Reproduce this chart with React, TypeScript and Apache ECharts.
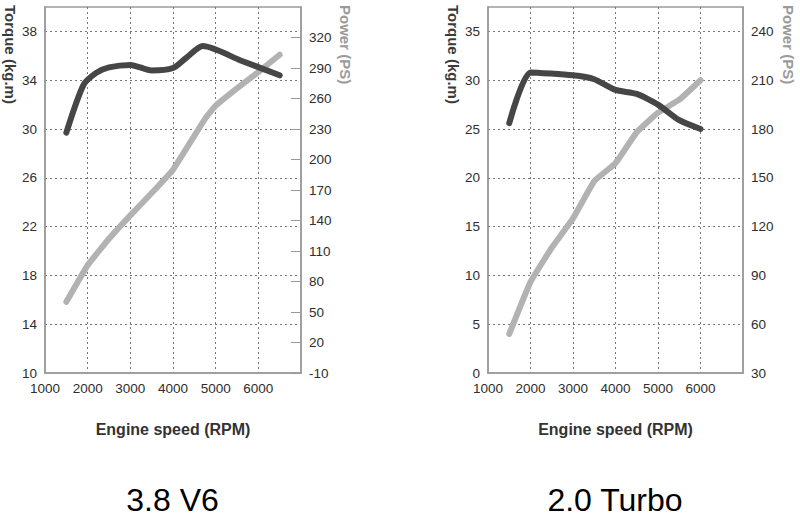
import React, { useEffect, useRef } from "react";
import * as echarts from "echarts";

// 3.8 V6
const v6TorqueRpm = [1500, 1900, 2200, 2500, 3000, 3500, 4000, 4300, 4700, 5600, 6500];
const v6Torque = [29.7, 33.6, 34.6, 35.05, 35.25, 34.8, 35.0, 35.8, 36.8, 35.6, 34.4];
const v6PowerRpm = [1500, 2000, 2500, 3000, 3500, 4000, 4750, 5000, 5500, 6000, 6500];
const v6Power = [60, 96, 122, 145, 167, 190, 240, 253, 270, 286, 303];

// 2.0 Turbo
const tTorqueRpm = [1500, 2000, 3000, 3500, 4000, 4500, 5000, 5500, 6000];
const tTorque = [25.6, 30.8, 30.5, 30.1, 29.0, 28.6, 27.5, 25.9, 25.0];
const tPowerRpm = [1500, 2000, 2500, 3000, 3500, 4000, 4500, 5000, 5500, 6000];
const tPower = [54, 86, 107, 125, 148, 159, 178, 190, 198, 210];

const chartTitles = ["3.8 V6", "2.0 Turbo"];
const xName = "Engine speed (RPM)";
const torqueName = "Torque (kg.m)";
const powerName = "Power (PS)";

const pairs = (xs: number[], ys: number[]) => xs.map((x, i) => [x, ys[i]]);

const LABEL_FONT = "'Liberation Sans Narrow', 'Liberation Sans', Arial, sans-serif";
const TITLE_FONT = "'Liberation Sans', Arial, sans-serif";
const AXIS_COLOR = "#9a9a9a";
const TORQUE_COLOR = "#464646";
const POWER_COLOR = "#b2b2b2";

export default function App() {
  const ref = useRef<HTMLDivElement>(null);
  useEffect(() => {
    if (!ref.current) return;
    const chart = echarts.init(ref.current, null, { renderer: "svg" });
    const label = {
      fontFamily: LABEL_FONT,
      fontSize: 13.5,
      color: "#2e2e2e",
      margin: 8,
      showMaxLabel: false,
      formatter: (v: number) => String(v),
    };
    const gridLine = { show: true, showMinLine: false, showMaxLine: false, lineStyle: { type: [2, 3], color: "#777", width: 1 } };
    const xAxis = (gridIndex: number) => ({
      type: "value",
      gridIndex,
      min: 1000,
      max: 7000,
      interval: 1000,
      axisLine: { show: true, onZero: false, lineStyle: { color: AXIS_COLOR, width: 1.5 } },
      axisTick: { show: false },
      axisLabel: label,
      splitLine: gridLine,
      name: xName,
      nameLocation: "middle",
      nameGap: 48,
      nameTextStyle: { fontFamily: TITLE_FONT, fontSize: 16, fontWeight: "bold", color: "#333" },
    });
    const leftY = (gridIndex: number, min: number, max: number, interval: number) => ({
      type: "value",
      gridIndex,
      position: "left",
      min,
      max,
      interval,
      axisLine: { show: true, onZero: false, lineStyle: { color: AXIS_COLOR, width: 1.5 } },
      axisTick: { show: false },
      axisLabel: label,
      splitLine: gridLine,
    });
    const rightY = (gridIndex: number, min: number, max: number, interval: number, ticks: boolean) => ({
      type: "value",
      gridIndex,
      position: "right",
      min,
      max,
      interval,
      axisLine: { show: true, onZero: false, lineStyle: { color: AXIS_COLOR, width: 1.5 } },
      axisTick: { show: ticks, inside: true, length: 10, lineStyle: { color: AXIS_COLOR } },
      axisLabel: label,
      splitLine: { show: false },
    });
    const line = (data: number[][], xAxisIndex: number, yAxisIndex: number, color: string, smooth: number) => ({
      type: "line",
      xAxisIndex,
      yAxisIndex,
      data,
      smooth,
      showSymbol: false,
      lineStyle: { color, width: 6, cap: "round", join: "round" },
      z: color === POWER_COLOR ? 3 : 4,
    });
    const vText = (x: number, text: string, fill: string) => ({
      type: "text",
      x,
      y: 5,
      rotation: -Math.PI / 2,
      style: {
        text,
        font: `bold 15px ${TITLE_FONT}`,
        fill,
        textAlign: "left",
        textVerticalAlign: "middle",
        align: "left",
        verticalAlign: "middle",
      },
    });
    const title = (x: number, text: string) => ({
      type: "text",
      x,
      y: 500,
      style: {
        text,
        font: `32px ${TITLE_FONT}`,
        fill: "#000",
        textAlign: "center",
        textVerticalAlign: "middle",
        align: "center",
        verticalAlign: "middle",
      },
    });
    chart.setOption({
      animation: false,
      backgroundColor: "#fff",
      grid: [
        { left: 45, top: 7, width: 256, height: 366, show: true, borderColor: AXIS_COLOR, borderWidth: 1.5, backgroundColor: "transparent" },
        { left: 488, top: 7, width: 255, height: 366, show: true, borderColor: AXIS_COLOR, borderWidth: 1.5, backgroundColor: "transparent" },
      ],
      xAxis: [xAxis(0), xAxis(1)],
      yAxis: [
        leftY(0, 10, 40, 4),
        rightY(0, -10, 350, 30, true),
        leftY(1, 0, 37.5, 5),
        rightY(1, 30, 255, 30, false),
      ],
      series: [
        line(pairs(v6PowerRpm, v6Power), 0, 1, POWER_COLOR, 0.1),
        line(pairs(v6TorqueRpm, v6Torque), 0, 0, TORQUE_COLOR, 0.25),
        line(pairs(tPowerRpm, tPower), 1, 3, POWER_COLOR, 0.1),
        line(pairs(tTorqueRpm, tTorque), 1, 2, TORQUE_COLOR, 0.2),
      ],
      graphic: [
        vText(10, torqueName, "#3a3a3a"),
        vText(345, powerName, "#9a9a9a"),
        vText(453, torqueName, "#3a3a3a"),
        vText(788, powerName, "#9a9a9a"),
        title(172.5, chartTitles[0]),
        title(615, chartTitles[1]),
      ],
    });
    return () => chart.dispose();
  }, []);
  return (
    <div
      ref={ref}
      style={{ position: "fixed", left: 0, top: 0, width: 800, height: 526, background: "#fff" }}
    />
  );
}
